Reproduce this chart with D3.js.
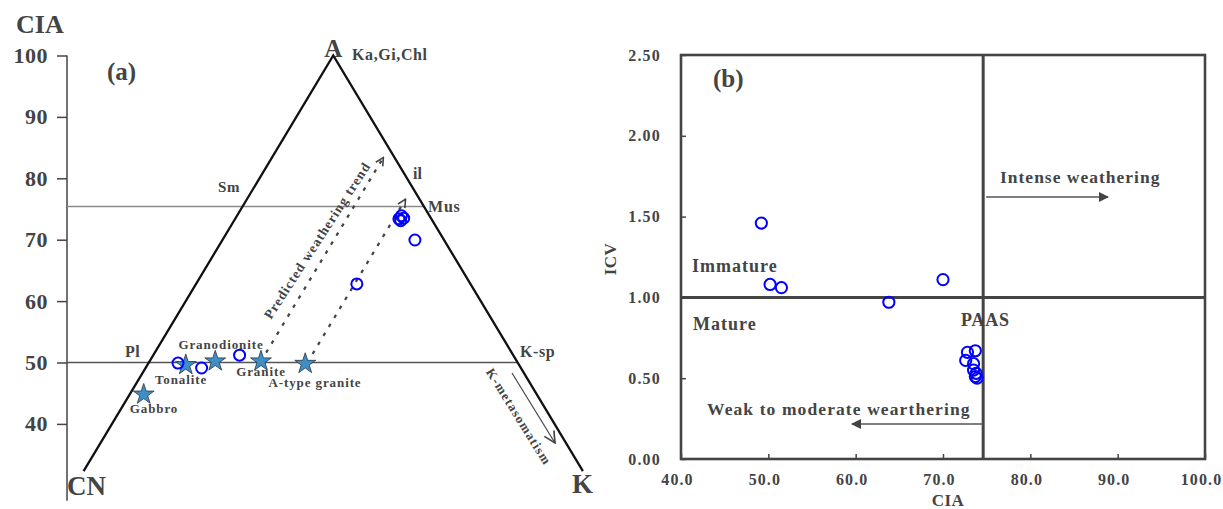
<!DOCTYPE html>
<html>
<head>
<meta charset="utf-8">
<script src="https://cdn.jsdelivr.net/npm/d3@7"></script>
<style>
  html, body { margin: 0; padding: 0; background: #fff; }
  svg { display: block; }
  text { font-family: "Liberation Serif", "DejaVu Serif", serif; font-weight: bold; fill: #444; }
</style>
</head>
<body>
<svg id="chart" width="1223" height="509"></svg>
<script>
// ---------------- DATA ----------------
// Panel (a): A-CN-K ternary (values in %, A = CIA, K = K2O share)
const ciaTicksA = [40, 50, 60, 70, 80, 90, 100];
const rockNames = ["Gabbro", "Tonalite", "Granodionite", "Granite", "A-type granite"];
const rockA = [44.8, 49.6, 50.2, 50.2, 49.8];
const rockK = [1.9, 5.2, 8.9, 15.1, 21.3];
const sampleA = [49.9, 49.1, 51.2, 62.8, 69.95, 73.4, 73.9, 73.1, 73.5];
const sampleK = [4.0, 7.6, 11.7, 21.8, 26.1, 22.2, 22.3, 22.6, 22.8];
const trendK = [15.1, 21.5];
const trendFromA = [51.6, 51.4];
const trendToA = [83.4, 76.6];
const smLineA = 75.4;
const fspLineA = 50;
const cutA = 32.3;

// Panel (b): CIA vs ICV
const xTicksB = [40, 50, 60, 70, 80, 90, 100];
const yTicksB = [0, 0.5, 1.0, 1.5, 2.0, 2.5];
const sampleCIA = [49.2, 50.2, 51.5, 63.8, 70.0, 72.8, 73.7, 72.6, 73.5, 73.5, 73.8, 73.7, 73.9];
const sampleICV = [1.46, 1.08, 1.06, 0.97, 1.11, 0.66, 0.67, 0.61, 0.59, 0.55, 0.53, 0.51, 0.50];
const paasCIA = 74.6;
const icvLimit = 1.0;

// ---------------- DRAW ----------------
const svg = d3.select("#chart");
const ink = "#444";

const defs = svg.append("defs");
defs.append("marker").attr("id", "openArrow").attr("viewBox", "0 0 10 10")
  .attr("refX", 9).attr("refY", 5).attr("markerWidth", 10).attr("markerHeight", 10)
  .attr("markerUnits", "userSpaceOnUse").attr("orient", "auto")
  .append("path").attr("d", "M1,1 L9,5 L1,9").attr("fill", "none").attr("stroke", ink).attr("stroke-width", 1.6);
defs.append("marker").attr("id", "openArrowBig").attr("viewBox", "0 0 10 10")
  .attr("refX", 9).attr("refY", 5).attr("markerWidth", 14).attr("markerHeight", 14)
  .attr("markerUnits", "userSpaceOnUse").attr("orient", "auto")
  .append("path").attr("d", "M1,1 L9,5 L1,9").attr("fill", "none").attr("stroke", ink).attr("stroke-width", 1.2);
defs.append("marker").attr("id", "solidArrow").attr("viewBox", "0 0 10 10")
  .attr("refX", 9).attr("refY", 5).attr("markerWidth", 14).attr("markerHeight", 10)
  .attr("markerUnits", "userSpaceOnUse").attr("orient", "auto")
  .append("path").attr("d", "M0,0 L10,5 L0,10 Z").attr("fill", ink);

// ===== Panel (a) =====
const xA = d3.scaleLinear().domain([0, 1]).range([-35.5, 702]);
const yA = d3.scaleLinear().domain([0, 100]).range([669.5, 55.5]);
const tern = (A, K) => [xA(K / 100 + A / 200), yA(A)];
const ga = svg.append("g");

// axis
const axisX = 67;
const axA = ga.append("g").attr("transform", `translate(${axisX},0)`)
  .call(d3.axisLeft(yA).tickValues(ciaTicksA).tickSize(10).tickSizeOuter(0).tickPadding(9).tickFormat(d3.format("d")));
axA.select(".domain").remove();
axA.selectAll(".tick line").attr("stroke", ink).attr("stroke-width", 1.5);
axA.selectAll(".tick text").attr("font-family", "Liberation Serif").attr("font-weight", "bold")
  .attr("font-size", 22).attr("fill", ink).attr("letter-spacing", 0.5);
ga.append("line").attr("x1", axisX).attr("x2", axisX).attr("y1", yA(100)).attr("y2", yA(27.5))
  .attr("stroke", ink).attr("stroke-width", 1.5);
ga.append("text").attr("x", 16).attr("y", 33).attr("font-size", 26).text("CIA");
ga.append("text").attr("x", 107).attr("y", 80).attr("font-size", 25).text("(a)");

// horizontal reference lines
const smEnd = tern(smLineA, 100 - smLineA);
ga.append("line").attr("x1", axisX).attr("x2", smEnd[0]).attr("y1", yA(smLineA)).attr("y2", yA(smLineA))
  .attr("stroke", "#8a8a8a").attr("stroke-width", 1.6);
const fspEnd = tern(fspLineA, 100 - fspLineA);
ga.append("line").attr("x1", axisX).attr("x2", fspEnd[0]).attr("y1", yA(fspLineA)).attr("y2", yA(fspLineA))
  .attr("stroke", "#555").attr("stroke-width", 1.3);

// triangle sides
const pCN = tern(cutA, 0), pA = tern(100, 0), pK = tern(cutA, 100 - cutA);
ga.append("path").attr("d", d3.line()([pCN, pA, pK]))
  .attr("fill", "none").attr("stroke", "#111").attr("stroke-width", 2.3).attr("stroke-linejoin", "miter");

// trend lines
trendK.forEach((k, i) => {
  const s = tern(trendFromA[i], k), e = tern(trendToA[i], k);
  ga.append("line").attr("x1", s[0]).attr("y1", s[1]).attr("x2", e[0]).attr("y2", e[1])
    .attr("stroke", ink).attr("stroke-width", 2.2).attr("stroke-dasharray", "3.5,7")
    .attr("marker-end", "url(#openArrow)");
});

// vertex & mineral labels
ga.append("text").attr("x", pA[0]).attr("y", 57).attr("text-anchor", "middle").attr("font-size", 25).text("A");
ga.append("text").attr("x", 352).attr("y", 60).attr("font-size", 16).attr("letter-spacing", 0.6).text("Ka,Gi,Chl");
ga.append("text").attr("x", 218).attr("y", 192).attr("font-size", 15).attr("letter-spacing", 0.6).text("Sm");
ga.append("text").attr("x", 413).attr("y", 179).attr("font-size", 16).text("il");
ga.append("text").attr("x", 428).attr("y", 212).attr("font-size", 16).attr("letter-spacing", 0.8).text("Mus");
ga.append("text").attr("x", 125).attr("y", 357).attr("font-size", 16).attr("letter-spacing", 0.6).text("Pl");
ga.append("text").attr("x", 520).attr("y", 357).attr("font-size", 16).attr("letter-spacing", 0.6).text("K-sp");
ga.append("text").attr("x", 67).attr("y", 495).attr("font-size", 27).text("CN");
ga.append("text").attr("x", 572).attr("y", 493).attr("font-size", 27).text("K");

// rotated annotations
ga.append("text").attr("transform", "translate(321,243) rotate(-57)").attr("text-anchor", "middle")
  .attr("font-size", 13.5).attr("letter-spacing", 1).text("Predicted weathering trend");
ga.append("text").attr("transform", "translate(515,419) rotate(58)").attr("text-anchor", "middle")
  .attr("font-size", 13).attr("letter-spacing", 1.2).text("K-metasomatism");
ga.append("line").attr("x1", 512).attr("y1", 373).attr("x2", 555).attr("y2", 443)
  .attr("stroke", ink).attr("stroke-width", 1.2).attr("marker-end", "url(#openArrowBig)");

// rock stars
const star = d3.symbol().type(d3.symbolStar).size(135);
const labelPos = [[154, 413], [181, 384], [221, 349], [261, 376], [315, 387]];
rockNames.forEach((n, i) => {
  const p = tern(rockA[i], rockK[i]);
  ga.append("path").attr("d", star()).attr("transform", `translate(${p[0]},${p[1]})`)
    .attr("fill", "#3f8fc6").attr("stroke", "#2a3440").attr("stroke-width", 0.8);
});
rockNames.forEach((n, i) => {
  ga.append("text").attr("x", labelPos[i][0]).attr("y", labelPos[i][1]).attr("text-anchor", "middle")
    .attr("font-size", 13).attr("letter-spacing", 0.9).text(n);
});

// sample circles (a)
sampleA.forEach((a, i) => {
  const p = tern(a, sampleK[i]);
  ga.append("circle").attr("cx", p[0]).attr("cy", p[1]).attr("r", 5.5)
    .attr("fill", "none").attr("stroke", "#0000ff").attr("stroke-width", 2);
});

// ===== Panel (b) =====
const xB = d3.scaleLinear().domain([40, 100]).range([681, 1205]);
const yB = d3.scaleLinear().domain([0, 2.5]).range([459, 55]);
const gb = svg.append("g");

const axB = gb.append("g").attr("transform", `translate(0,${yB(0)})`)
  .call(d3.axisTop(xB).tickValues(xTicksB).tickSize(5).tickSizeOuter(0).tickFormat(d3.format(".1f")));
axB.select(".domain").remove();
axB.selectAll(".tick line").attr("stroke", ink).attr("stroke-width", 1.5);
axB.selectAll(".tick text").attr("x", -4).attr("y", 26).attr("dy", 0).attr("font-family", "Liberation Serif")
  .attr("font-weight", "bold").attr("font-size", 16).attr("fill", ink).attr("letter-spacing", 1.1);

const ayB = gb.append("g").attr("transform", `translate(${xB(40)},0)`)
  .call(d3.axisRight(yB).tickValues(yTicksB).tickSize(5).tickSizeOuter(0).tickFormat(d3.format(".2f")));
ayB.select(".domain").remove();
ayB.selectAll(".tick line").attr("stroke", ink).attr("stroke-width", 1.5);
ayB.selectAll(".tick text").attr("x", -20).attr("text-anchor", "end").attr("font-family", "Liberation Serif")
  .attr("font-weight", "bold").attr("font-size", 16).attr("fill", ink).attr("letter-spacing", 1.2);

// frame
gb.append("rect").attr("x", xB(40)).attr("y", yB(2.5)).attr("width", xB(100) - xB(40)).attr("height", yB(0) - yB(2.5))
  .attr("fill", "none").attr("stroke", ink).attr("stroke-width", 2.6);
// division lines
gb.append("line").attr("x1", xB(paasCIA)).attr("x2", xB(paasCIA)).attr("y1", yB(2.5)).attr("y2", yB(0))
  .attr("stroke", ink).attr("stroke-width", 3);
gb.append("line").attr("x1", xB(40)).attr("x2", xB(100)).attr("y1", yB(icvLimit)).attr("y2", yB(icvLimit))
  .attr("stroke", ink).attr("stroke-width", 3);

// titles
gb.append("text").attr("transform", "translate(616,259) rotate(-90)").attr("text-anchor", "middle")
  .attr("font-size", 17).attr("letter-spacing", 0.5).text("ICV");
gb.append("text").attr("x", 948).attr("y", 506).attr("text-anchor", "middle")
  .attr("font-size", 17).attr("letter-spacing", 0.5).text("CIA");
gb.append("text").attr("x", 713).attr("y", 87).attr("font-size", 25).text("(b)");

// annotations
gb.append("text").attr("x", 692).attr("y", 272).attr("font-size", 18).attr("letter-spacing", 1).text("Immature");
gb.append("text").attr("x", 693).attr("y", 330).attr("font-size", 18).attr("letter-spacing", 1).text("Mature");
gb.append("text").attr("x", 961).attr("y", 326).attr("font-size", 18).attr("letter-spacing", 0.8).text("PAAS");
gb.append("text").attr("x", 1000).attr("y", 183).attr("font-size", 17.5).attr("letter-spacing", 1).text("Intense weathering");
gb.append("text").attr("x", 707).attr("y", 415).attr("font-size", 17.5).attr("letter-spacing", 1.1).text("Weak to moderate wearthering");
gb.append("line").attr("x1", xB(paasCIA) + 3).attr("x2", 1108).attr("y1", 197).attr("y2", 197)
  .attr("stroke", "#555").attr("stroke-width", 1.4).attr("marker-end", "url(#solidArrow)");
gb.append("line").attr("x1", xB(paasCIA)).attr("x2", 852).attr("y1", 424).attr("y2", 424)
  .attr("stroke", "#555").attr("stroke-width", 1.4).attr("marker-end", "url(#solidArrow)");

// sample circles (b)
sampleCIA.forEach((c, i) => {
  gb.append("circle").attr("cx", xB(c)).attr("cy", yB(sampleICV[i])).attr("r", 5.6)
    .attr("fill", "none").attr("stroke", "#0000ff").attr("stroke-width", 2);
});
</script>
</body>
</html>
